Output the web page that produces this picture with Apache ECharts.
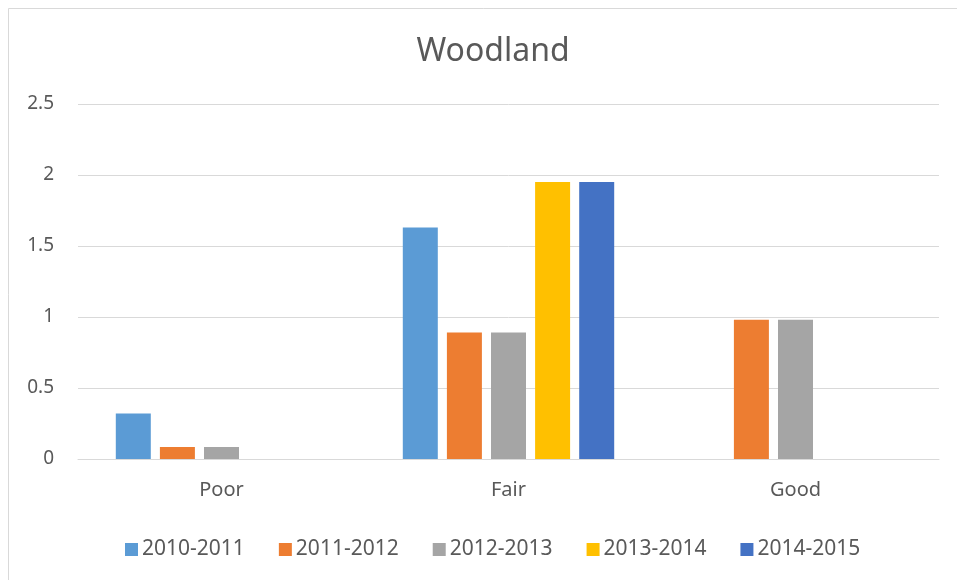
<!DOCTYPE html>
<html>
<head>
<meta charset="utf-8">
<script src="https://cdn.jsdelivr.net/npm/echarts@6/dist/echarts.min.js"></script>
<style>
html,body{margin:0;padding:0;background:#fff;}
#chart{width:957px;height:580px;}
</style>
</head>
<body>
<div id="chart"></div>
<script>
var categories = ['Poor', 'Fair', 'Good'];
var seriesNames = ['2010-2011', '2011-2012', '2012-2013', '2013-2014', '2014-2015'];
var s2010_2011 = [0.32, 1.63, null];
var s2011_2012 = [0.085, 0.89, 0.98];
var s2012_2013 = [0.085, 0.89, 0.98];
var s2013_2014 = [null, 1.95, null];
var s2014_2015 = [null, 1.95, null];
var yTicks = [0, 0.5, 1, 1.5, 2, 2.5];
var colors = ['#5B9BD5', '#ED7D31', '#A5A5A5', '#FFC000', '#4472C4'];

var allData = [s2010_2011, s2011_2012, s2012_2013, s2013_2014, s2014_2015];
var font = '"Noto Sans", sans-serif';

var chart = echarts.init(document.getElementById('chart'), null, {renderer: 'canvas'});
chart.setOption({
  animation: false,
  backgroundColor: '#fff',
  color: colors,
  graphic: [{
    type: 'rect',
    shape: {x: 8.5, y: 8.5, width: 1000, height: 1000},
    style: {fill: 'none', stroke: '#D9D9D9', lineWidth: 1},
    silent: true,
    z: -10
  }],
  title: {
    text: 'Woodland',
    left: 488,
    textAlign: 'center',
    top: 31,
    textStyle: {fontFamily: font, fontSize: 32, fontWeight: 'normal', color: '#595959'}
  },
  legend: {
    data: seriesNames,
    bottom: 20,
    left: 125,
    padding: 0,
    itemWidth: 13,
    itemHeight: 13,
    itemGap: 34,
    icon: 'rect',
    textStyle: {fontFamily: font, fontSize: 21, color: '#595959', padding: [0, 0, 0, -1]}
  },
  grid: {left: 78, right: 18, top: 104, bottom: 121, containLabel: false},
  xAxis: {
    type: 'category',
    data: categories,
    axisLine: {lineStyle: {color: '#D9D9D9', width: 1}},
    axisTick: {show: false},
    axisLabel: {fontFamily: font, fontSize: 20, color: '#595959', margin: 21}
  },
  yAxis: {
    type: 'value',
    min: yTicks[0],
    max: yTicks[yTicks.length - 1],
    interval: 0.5,
    axisLine: {show: false},
    axisTick: {show: false},
    splitLine: {lineStyle: {color: '#D9D9D9', width: 1}},
    axisLabel: {fontFamily: font, fontSize: 19, color: '#595959', margin: 24}
  },
  series: seriesNames.map(function (name, i) {
    return {
      name: name,
      type: 'bar',
      data: allData[i],
      barWidth: 35,
      barGap: '26%',
      itemStyle: {color: colors[i]}
    };
  })
});
</script>
</body>
</html>
